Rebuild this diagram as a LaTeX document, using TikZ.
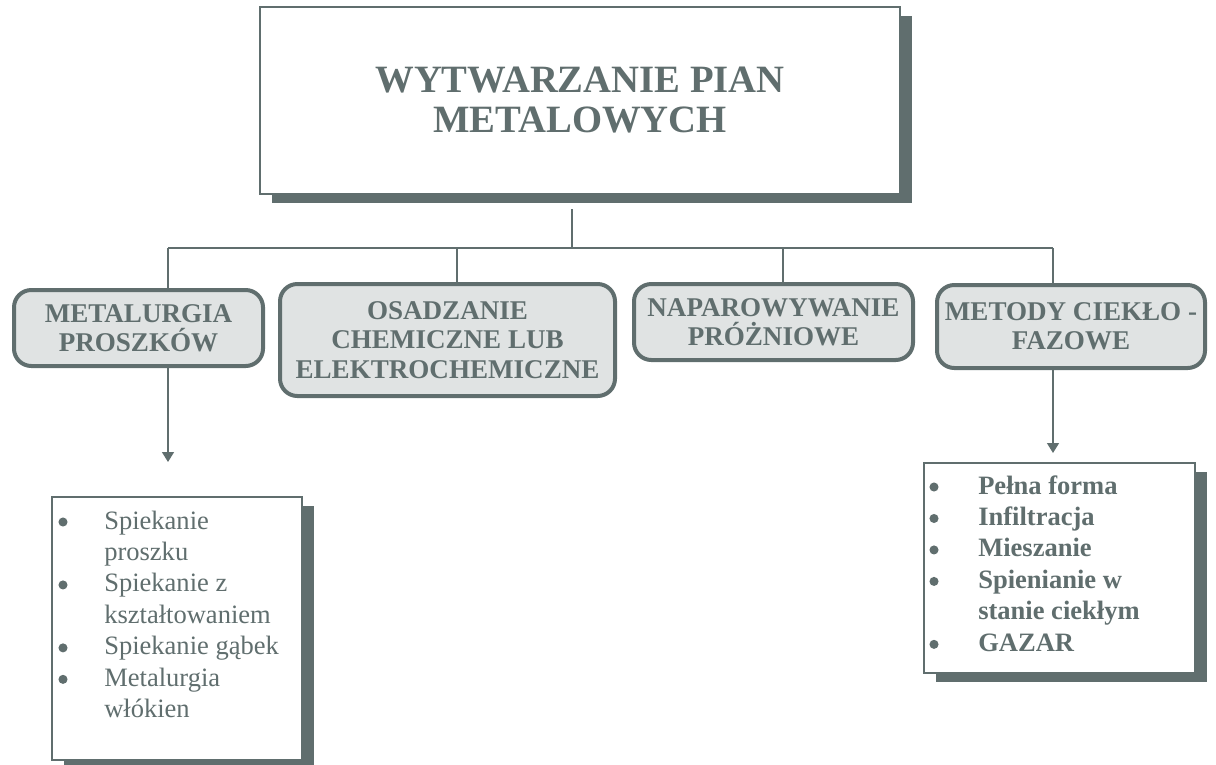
\documentclass[tikz,border=0pt]{standalone}
\usepackage{fontspec}
\setmainfont{Liberation Serif}
\usetikzlibrary{arrows.meta,shadows}
\definecolor{slate}{RGB}{96,110,110}
\definecolor{stipple}{RGB}{224,227,227}
\begin{document}
\begin{tikzpicture}[x=0.75pt,y=-0.75pt,
  link/.style={draw=slate,line width=1.1pt},
  arrow/.style={link,-{Triangle[width=9pt,length=7.5pt]}},
  method/.style={draw=slate,line width=3pt,fill=stipple,rounded corners=13pt,
    text=slate,align=center,inner sep=0pt,
    font=\bfseries\fontsize{20.3}{22}\selectfont},
  shadowed/.style={draw=slate,line width=1.2pt,fill=white,
    drop shadow={shadow xshift=9pt,shadow yshift=-6.75pt,fill=slate,opacity=1}},
  listing/.style={text=slate,inner sep=0pt,anchor=base west,
    font=\fontsize{19.9}{23.6}\selectfont},
  bullet/.style={fill=slate}]
  \useasboundingbox (0,0) rectangle (1216,764);
  \node[shadowed,minimum width=480pt,minimum height=140.25pt,
    text=slate,align=center,font=\bfseries\fontsize{29}{30}\selectfont]
    (main) at (580,100.5) {WYTWARZANIE PIAN\\METALOWYCH};
  \node[method,minimum width=186.75pt,minimum height=57pt]
    (b1) at (138.5,328) {METALURGIA\\PROSZKÓW};
  \node[method,minimum width=251.25pt,minimum height=84pt]
    (b2) at (447.5,340) {OSADZANIE\\CHEMICZNE LUB\\ELEKTROCHEMICZNE};
  \node[method,minimum width=209.25pt,minimum height=57pt]
    (b3) at (773.5,322) {NAPAROWYWANIE\\PRÓŻNIOWE};
  \node[method,minimum width=201pt,minimum height=62.25pt]
    (b4) at (1071,326.5) {METODY CIEKŁO -\\FAZOWE};
  \coordinate (bus) at (572,248);
  \coordinate (j1) at (168,248);
  \coordinate (j2) at (457,248);
  \coordinate (j3) at (783,248);
  \coordinate (j4) at (1053,248);
  \draw[link,shorten <=11pt] (main.south -| bus) -- (bus);
  \draw[link] (j1) -- (j4);
  \foreach \j/\b in {j1/b1,j2/b2,j3/b3,j4/b4}
    \draw[link] (\j) -- (\j |- \b.north);
  \coordinate (tip1) at (168,462);
  \coordinate (tip4) at (1053,453);
  \draw[arrow] (b1.south -| tip1) -- (tip1);
  \draw[arrow] (b4.south -| tip4) -- (tip4);
  \node[shadowed,minimum width=187.5pt,minimum height=197.25pt]
    (powder) at (177,628.5) {};
  \node[listing] (powderitems) at (104,529) {%
    \begin{tabular}[t]{@{}l@{}}
      Spiekanie\\
      proszku\\
      Spiekanie z\\
      kształtowaniem\\
      Spiekanie gąbek\\
      Metalurgia\\
      włókien
    \end{tabular}};
  \foreach \n in {0,2,4,5}
    \fill[bullet] (63,522+31.47*\n) circle (3.4pt);
  \node[shadowed,minimum width=203.25pt,minimum height=157.5pt]
    (liquid) at (1059.5,568) {};
  \node[listing,font=\bfseries\fontsize{19.9}{23.6}\selectfont]
    (liquiditems) at (978,494) {%
    \begin{tabular}[t]{@{}l@{}}
      Pełna forma\\
      Infiltracja\\
      Mieszanie\\
      Spienianie w\\
      stanie ciekłym\\
      GAZAR
    \end{tabular}};
  \foreach \n in {0,1,2,3,5}
    \fill[bullet] (934,487+31.47*\n) circle (3.4pt);
\end{tikzpicture}
\end{document}
